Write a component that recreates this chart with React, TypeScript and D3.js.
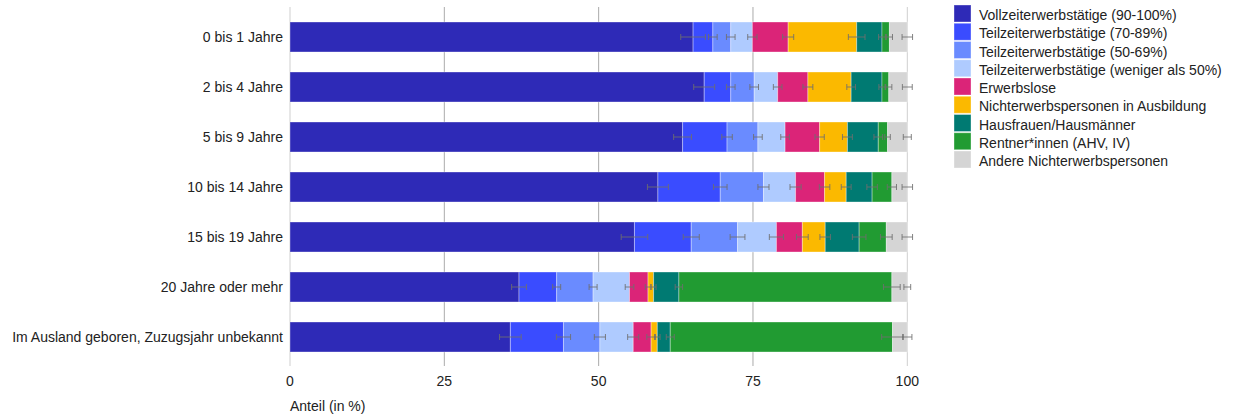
import React from "react";
import * as d3 from "d3";

// Age groups since arrival (rows, top to bottom)
const categories = [
  "0 bis 1 Jahre",
  "2 bis 4 Jahre",
  "5 bis 9 Jahre",
  "10 bis 14 Jahre",
  "15 bis 19 Jahre",
  "20 Jahre oder mehr",
  "Im Ausland geboren, Zuzugsjahr unbekannt",
];

const seriesNames = [
  "Vollzeiterwerbstätige (90-100%)",
  "Teilzeiterwerbstätige (70-89%)",
  "Teilzeiterwerbstätige (50-69%)",
  "Teilzeiterwerbstätige (weniger als 50%)",
  "Erwerbslose",
  "Nichterwerbspersonen in Ausbildung",
  "Hausfrauen/Hausmänner",
  "Rentner*innen (AHV, IV)",
  "Andere Nichterwerbspersonen",
];

const seriesColors = [
  "#2e2ab7",
  "#3a4cff",
  "#6a8bff",
  "#afcbff",
  "#db2478",
  "#fbb900",
  "#007a72",
  "#219b32",
  "#d5d5d5",
];

// Shares in % per series, one value per category
const vollzeit = [65.3, 67.1, 63.6, 59.6, 55.8, 37.1, 35.7];
const teilzeit7089 = [3.2, 4.3, 7.2, 10.1, 9.2, 6.1, 8.6];
const teilzeit5069 = [2.9, 3.8, 5.0, 7.0, 7.5, 5.9, 5.9];
const teilzeitUnter50 = [3.5, 3.8, 4.4, 5.2, 6.3, 5.9, 5.4];
const erwerbslose = [5.8, 4.9, 5.6, 4.7, 4.2, 3.0, 2.9];
const ausbildung = [11.1, 7.0, 4.5, 3.5, 3.7, 0.9, 1.0];
const hausfrauen = [4.1, 5.0, 5.0, 4.2, 5.5, 4.1, 2.1];
const rentner = [1.2, 1.1, 1.5, 3.2, 4.4, 34.5, 36.0];
const andere = [2.9, 3.0, 3.2, 2.5, 3.4, 2.5, 2.4];

// Confidence interval half-widths in percentage points
const errVollzeit = [2.0, 1.7, 1.45, 1.7, 2.15, 1.2, 1.75];
const errTeilzeit7089 = [0.7, 0.7, 0.85, 1.1, 1.3, 0.65, 1.15];
const errTeilzeit5069 = [0.7, 0.7, 0.7, 0.9, 1.2, 0.65, 0.9];
const errTeilzeitUnter50 = [0.75, 0.7, 0.7, 0.9, 1.15, 0.7, 0.9];
const errErwerbslose = [0.9, 0.8, 0.75, 0.85, 0.95, 0.45, 0.7];
const errAusbildung = [1.35, 0.7, 0.8, 0.8, 0.85, 0.4, 0.45];
const errHausfrauen = [0.55, 0.5, 0.7, 0.85, 1.1, 0.6, 0.65];
const errRentner = [0.5, 0.5, 0.45, 0.75, 0.95, 1.35, 1.75];
const errAndere = [0.85, 0.8, 0.65, 0.85, 0.85, 0.55, 0.75];

const xTicks = [0, 25, 50, 75, 100];
const axisTitle = "Anteil (in %)";

const seriesValues = [
  vollzeit,
  teilzeit7089,
  teilzeit5069,
  teilzeitUnter50,
  erwerbslose,
  ausbildung,
  hausfrauen,
  rentner,
  andere,
];
const seriesErrors = [
  errVollzeit,
  errTeilzeit7089,
  errTeilzeit5069,
  errTeilzeitUnter50,
  errErwerbslose,
  errAusbildung,
  errHausfrauen,
  errRentner,
  errAndere,
];

const W = 1260;
const H = 420;
const FONT = "'Liberation Sans', Arial, sans-serif";
const TEXT = "#222";

export default function App() {
  const x = d3.scaleLinear().domain([0, 100]).range([290, 907.3]);
  const y = d3
    .scaleBand<string>()
    .domain(categories)
    .range([12, 362])
    .paddingInner(0.4)
    .paddingOuter(0.2);

  const rows = categories.map((c, i) => {
    const r: Record<string, number | string> = { category: c };
    seriesNames.forEach((s, k) => (r[s] = seriesValues[k][i]));
    return r;
  });
  const stacked = d3.stack<any>().keys(seriesNames)(rows as any);

  const legendX = 954;
  const legendY = 5;
  const legendStep = 18.25;

  return (
    <svg
      width={W}
      height={H}
      style={{ position: "absolute", left: 0, top: 0, fontFamily: FONT }}
    >
      <rect width={W} height={H} fill="#fff" />

      {/* vertical gridlines */}
      {xTicks.map((t) => (
        <line
          key={"g" + t}
          x1={x(t)}
          x2={x(t)}
          y1={7}
          y2={366}
          stroke={t === 0 || t === 100 ? "#cfcfcf" : "#ababab"}
          strokeWidth={1}
        />
      ))}

      {/* stacked bars */}
      {stacked.map((layer, k) => (
        <g key={"s" + k}>
          {layer.map((d, i) => (
            <rect
              key={i}
              x={x(d[0])}
              y={y(categories[i])!}
              width={Math.max(0, x(d[1]) - x(d[0]))}
              height={y.bandwidth()}
              fill={seriesColors[k]}
              stroke="#ffffff"
              strokeOpacity={0.35}
              strokeWidth={1}
            />
          ))}
        </g>
      ))}

      {/* error bars at the end of each segment */}
      {stacked.map((layer, k) => (
        <g key={"e" + k} stroke="#6f6f6f" strokeOpacity={0.85} strokeWidth={1}>
          {layer.map((d, i) => {
            const cy = y(categories[i])! + y.bandwidth() / 2;
            const e = seriesErrors[k][i];
            const x0 = x(d[1] - e);
            const x1 = x(d[1] + e);
            return (
              <g key={i}>
                <line x1={x0} x2={x1} y1={cy} y2={cy} />
                <line x1={x0} x2={x0} y1={cy - 3} y2={cy + 3} />
                <line x1={x1} x2={x1} y1={cy - 3} y2={cy + 3} />
              </g>
            );
          })}
        </g>
      ))}

      {/* category labels */}
      {categories.map((c) => (
        <text
          key={c}
          x={283}
          y={y(c)! + y.bandwidth() / 2 + 5}
          textAnchor="end"
          fontSize={14}
          fill={TEXT}
        >
          {c}
        </text>
      ))}

      {/* x tick labels */}
      {xTicks.map((t) => (
        <text
          key={"t" + t}
          x={x(t)}
          y={386}
          textAnchor="middle"
          fontSize={14}
          fill={TEXT}
        >
          {t}
        </text>
      ))}

      <text x={290} y={411} fontSize={14} fill={TEXT}>
        {axisTitle}
      </text>

      {/* legend */}
      {seriesNames.map((s, k) => (
        <g key={"l" + k} transform={`translate(${legendX},${legendY + k * legendStep})`}>
          <rect
            width={17}
            height={17}
            fill={seriesColors[k]}
            stroke="#ffffff"
            strokeOpacity={0.35}
          />
          <text x={25} y={15} fontSize={14} fill={TEXT}>
            {s}
          </text>
        </g>
      ))}
    </svg>
  );
}
